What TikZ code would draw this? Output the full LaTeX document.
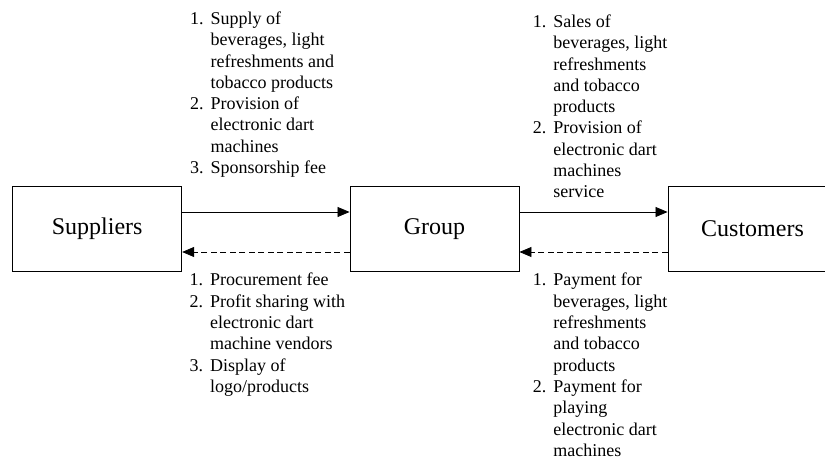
\documentclass[tikz,border=0pt]{standalone}
\usepackage{fontspec}
\setmainfont{Liberation Serif}
\usetikzlibrary{arrows.meta}
\newcommand\itm[1]{\makebox[20.5bp][l]{#1}}
\newcommand\ind{\hspace*{20.5bp}}
\begin{document}
\begin{tikzpicture}[x=1bp,y=-1bp,
  box/.style={draw,line width=0.9bp,minimum width=169bp,minimum height=85bp,inner sep=0pt,font=\fontsize{24bp}{28bp}\selectfont},
  lbl/.style={anchor=base west,inner sep=0pt,font=\fontsize{18bp}{21.3bp}\selectfont},
  flow/.style={line width=0.8bp,-{Triangle[length=12bp,width=10bp]}},
  ret/.style={flow,dash pattern=on 6bp off 3.5bp}]
\useasboundingbox (0,0) rectangle (825,459);
\node[box] (sup) at (97.2,228.7) {Suppliers};
\node[box] (grp) at (434.5,228.7) {Group};
\node[box] (cus) at (752.5,228.7) {Customers};
\draw[flow] ([yshift=16.7bp]sup.east) -- ([yshift=16.7bp]grp.west);
\draw[ret] ([yshift=-23.3bp]grp.west) -- ([yshift=-23.3bp]sup.east);
\draw[flow] ([yshift=16.7bp]grp.east) -- ([yshift=16.7bp]cus.west);
\draw[ret] ([yshift=-23.3bp]cus.west) -- ([yshift=-23.3bp]grp.east);
\node[lbl] (t1) at (190,24.5) {\begin{tabular}[t]{@{}l@{}}
\itm{1.}Supply of\\ \ind beverages, light\\ \ind refreshments and\\ \ind tobacco products\\
\itm{2.}Provision of\\ \ind electronic dart\\ \ind machines\\ \itm{3.}Sponsorship fee\end{tabular}};
\node[lbl] (t2) at (532.7,27.5) {\begin{tabular}[t]{@{}l@{}}
\itm{1.}Sales of\\ \ind beverages, light\\ \ind refreshments\\ \ind and tobacco\\ \ind products\\
\itm{2.}Provision of\\ \ind electronic dart\\ \ind machines\\ \ind service\end{tabular}};
\node[lbl] (t3) at (189.5,286) {\begin{tabular}[t]{@{}l@{}}
\itm{1.}Procurement fee\\ \itm{2.}Profit sharing with\\ \ind electronic dart\\ \ind machine vendors\\
\itm{3.}Display of\\ \ind logo/products\end{tabular}};
\node[lbl] (t4) at (532.7,286) {\begin{tabular}[t]{@{}l@{}}
\itm{1.}Payment for\\ \ind beverages, light\\ \ind refreshments\\ \ind and tobacco\\ \ind products\\
\itm{2.}Payment for\\ \ind playing\\ \ind electronic dart\\ \ind machines\end{tabular}};
\end{tikzpicture}
\end{document}
